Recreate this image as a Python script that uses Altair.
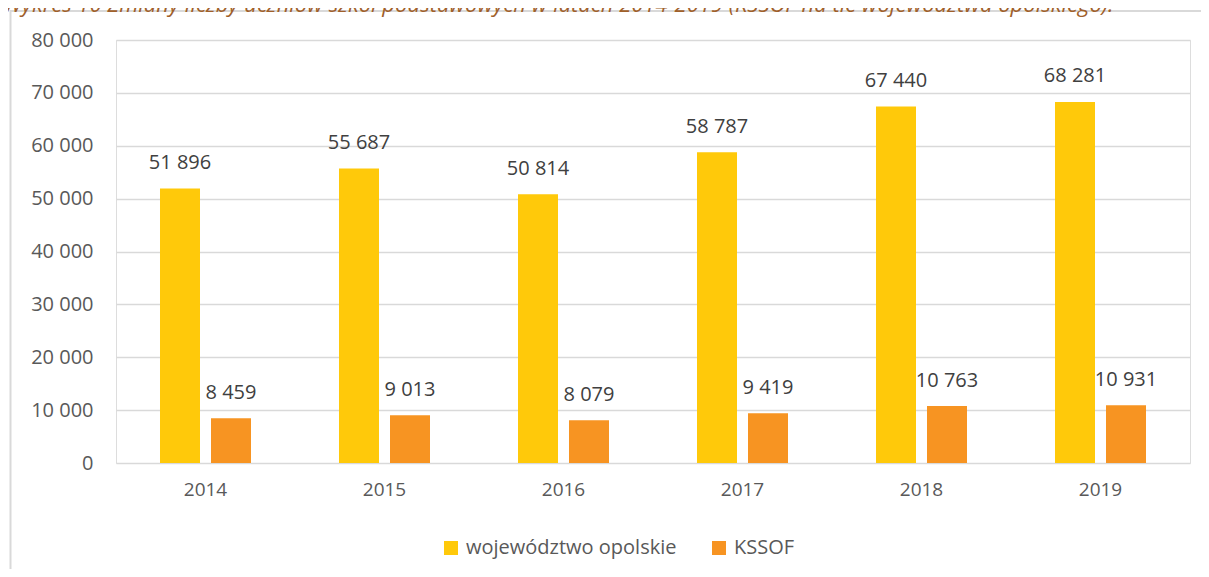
import altair as alt
import pandas as pd

years = ["2014", "2015", "2016", "2017", "2018", "2019"]
series_names = ["województwo opolskie", "KSSOF"]
opolskie = [51896, 55687, 50814, 58787, 67440, 68281]
kssof = [8459, 9013, 8079, 9419, 10763, 10931]
colors = ["#FFC90A", "#F79422"]
y_ticks = [0, 10000, 20000, 30000, 40000, 50000, 60000, 70000, 80000]
title_text = ("Wykres 10 Zmiany liczby uczniów szkół podstawowych w latach 2014-2019 "
              "(KSSOF na tle województwa opolskiego).")

rows = []
for i, yr in enumerate(years):
    rows.append({"year": yr, "series": series_names[0], "value": opolskie[i]})
    rows.append({"year": yr, "series": series_names[1], "value": kssof[i]})
df = pd.DataFrame(rows)

FONT = "Open Sans"
fmt_expr = "replace(format(datum.value, ','), ',', ' ')"

x_enc = alt.X("year:N", sort=years, title=None,
              scale=alt.Scale(paddingInner=0.4916, paddingOuter=0.2458),
              axis=alt.Axis(labelAngle=0, domain=False, ticks=False, tickSize=0,
                            labelPadding=17, labelFontSize=19, labelColor="#595959",
                            labelFont=FONT, grid=False))
xo_enc = alt.XOffset("series:N", sort=series_names,
                     scale=alt.Scale(paddingInner=11 / 51, paddingOuter=0))
y_enc = alt.Y("value:Q", title=None,
              scale=alt.Scale(domain=[0, 80000], nice=False),
              axis=alt.Axis(values=y_ticks, domain=False, ticks=False, tickSize=0,
                            labelPadding=23, labelFontSize=20, labelColor="#595959",
                            labelFont=FONT, labelExpr=fmt_expr,
                            gridColor="#d9d9d9", gridWidth=1.5))

base = alt.Chart(df)

bars = base.mark_bar().encode(
    x=x_enc,
    xOffset=xo_enc,
    y=y_enc,
    color=alt.Color("series:N", sort=series_names,
                    scale=alt.Scale(domain=series_names, range=colors),
                    legend=alt.Legend(title=None, orient="none", direction="horizontal",
                                      legendX=325, legendY=498,
                                      symbolType="square", symbolSize=196,
                                      symbolStrokeWidth=0, labelFontSize=20,
                                      labelColor="#595959", labelFont=FONT,
                                      labelLimit=400,
                                      labelOffset=5, columnPadding=32)),
)

labels = base.transform_calculate(
    label=fmt_expr
).mark_text(baseline="alphabetic", dy=-19.5, fontSize=20, font=FONT,
            color="#404040").encode(
    x=alt.X("year:N", sort=years),
    xOffset=alt.XOffset("series:N", sort=series_names),
    y=alt.Y("value:Q"),
    text="label:N",
)

border = alt.Chart(pd.DataFrame({"k": [0]})).mark_rect(
    fillOpacity=0, stroke="#d9d9d9", strokeWidth=2
).encode(
    x=alt.value(-105.5), x2=alt.value(1300),
    y=alt.value(-29), y2=alt.value(800),
)

title = alt.Chart(pd.DataFrame({"t": [title_text]})).mark_text(
    align="left", baseline="alphabetic", fontSize=22, font=FONT,
    fontStyle="italic", color="#A0602A"
).encode(
    x=alt.value(-113), y=alt.value(-28), text="t:N"
)

chart = alt.layer(border, bars, labels, title).properties(
    width=1074, height=423,
    autosize=alt.AutoSizeParams(type="none"),
    padding={"left": 108, "top": 32, "right": 11, "bottom": 106},
).configure_view(stroke="transparent").configure(background="white")

chart.save("out.html", embed_options={"renderer": "svg", "actions": False})
